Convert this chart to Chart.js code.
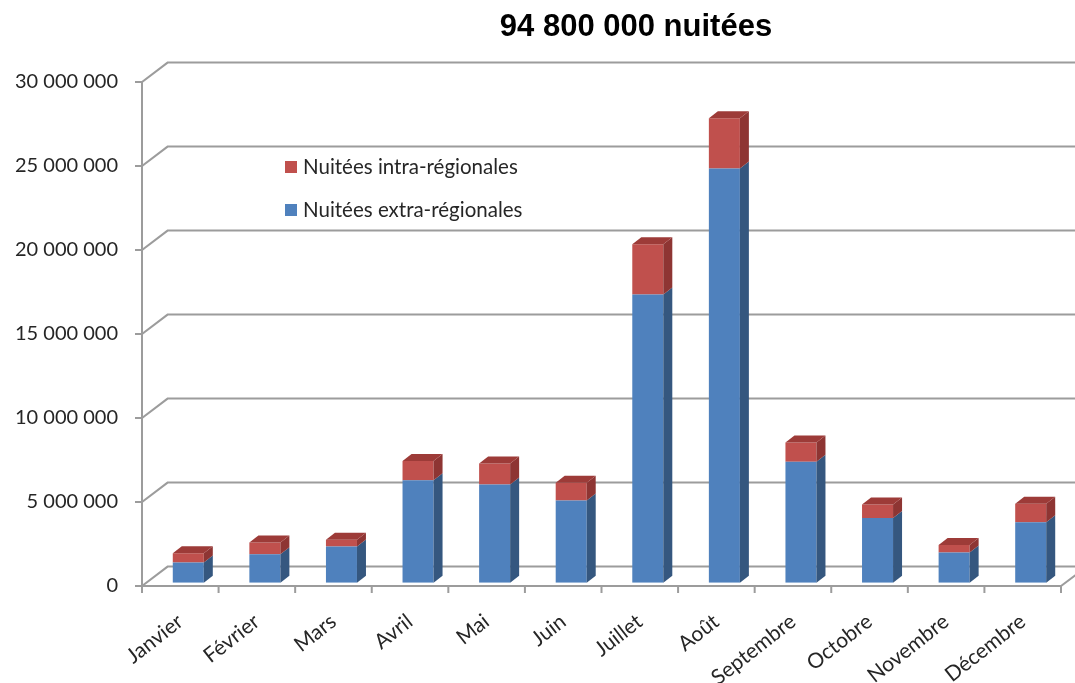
<!DOCTYPE html>
<html>
<head>
<meta charset="utf-8">
<script src="https://cdn.jsdelivr.net/npm/chart.js@4"></script>
<style>
  body { margin: 0; background: #fff; }
  #wrap { width: 1075px; height: 683px; }
</style>
</head>
<body>
<div id="wrap"><canvas id="nuitees" width="1075" height="683"></canvas></div>
<script>
const months = ['Janvier', 'Février', 'Mars', 'Avril', 'Mai', 'Juin', 'Juillet', 'Août', 'Septembre', 'Octobre', 'Novembre', 'Décembre'];
const extraRegionales = [1200000, 1700000, 2150000, 6100000, 5850000, 4900000, 17150000, 24650000, 7200000, 3850000, 1800000, 3600000];
const intraRegionales = [560000, 690000, 400000, 1150000, 1250000, 1050000, 3000000, 3000000, 1150000, 800000, 450000, 1100000];
const yTicks = [0, 5000000, 10000000, 15000000, 20000000, 25000000, 30000000];
const titleText = '94 800 000 nuitées';

// depth of the back wall and of the columns
const WALL = { dx: 25.6, dy: -19.4 };
const COL = { dx: 9, dy: -7 };
const SHIFT = { dx: 8, dy: -3.3 };
const GRID = '#9c9c9c';

function spaced(v) {
    return String(v).replace(/\B(?=(\d{3})+(?!\d))/g, ' ');
}

function poly(ctx, pts, color) {
    ctx.beginPath();
    ctx.moveTo(pts[0][0], pts[0][1]);
    for (let i = 1; i < pts.length; i++) ctx.lineTo(pts[i][0], pts[i][1]);
    ctx.closePath();
    ctx.fillStyle = color;
    ctx.fill();
}

const box3d = {
    id: 'box3d',
    beforeDatasetsDraw(chart) {
        const { ctx, chartArea: a, scales: { x, y } } = chart;
        ctx.save();
        ctx.strokeStyle = GRID;
        ctx.lineWidth = 2;
        ctx.beginPath();
        yTicks.forEach(v => {
            const py = y.getPixelForValue(v);
            ctx.moveTo(a.left - 7, py);
            ctx.lineTo(a.left, py);
            ctx.lineTo(a.left + WALL.dx, py + WALL.dy);
            ctx.lineTo(a.right + WALL.dx + 20, py + WALL.dy);
        });
        // axis and floor edges
        ctx.moveTo(a.left, y.getPixelForValue(yTicks[yTicks.length - 1]));
        ctx.lineTo(a.left, a.bottom);
        ctx.lineTo(a.right, a.bottom);
        ctx.lineTo(a.right + WALL.dx, a.bottom + WALL.dy);
        const half = (x.getPixelForValue(1) - x.getPixelForValue(0)) / 2;
        for (let i = 0; i <= months.length; i++) {
            const px = x.getPixelForValue(0) - half + i * half * 2;
            ctx.moveTo(px, a.bottom);
            ctx.lineTo(px, a.bottom + 7);
        }
        ctx.stroke();
        ctx.restore();

        ctx.save();
        ctx.translate(SHIFT.dx, SHIFT.dy);
    },
    afterDatasetsDraw(chart) {
        const { ctx } = chart;
        const last = chart.data.datasets.length - 1;
        chart.data.datasets.forEach((ds, di) => {
            chart.getDatasetMeta(di).data.forEach(bar => {
                const p = bar.getProps(['x', 'y', 'base', 'width'], true);
                const l = p.x - p.width / 2, r = p.x + p.width / 2;
                const top = Math.min(p.y, p.base), bot = Math.max(p.y, p.base);
                poly(ctx, [[r, top], [r + COL.dx, top + COL.dy], [r + COL.dx, bot + COL.dy], [r, bot]], ds.sideColor);
                if (di === last) {
                    poly(ctx, [[l, top], [l + COL.dx, top + COL.dy], [r + COL.dx, top + COL.dy], [r, top]], ds.topColor);
                }
            });
        });
        ctx.restore();
    },
    afterDraw(chart) {
        const { ctx } = chart;
        ctx.save();
        ctx.fillStyle = '#000';
        ctx.font = 'bold 31px "Liberation Sans", Arial, sans-serif';
        ctx.textAlign = 'center';
        ctx.textBaseline = 'middle';
        ctx.fillText(titleText, 636, 27);

        // legend, top series first
        ctx.font = '20.5px Lato, sans-serif';
        ctx.textAlign = 'left';
        const sets = chart.data.datasets.slice().reverse();
        sets.forEach((ds, i) => {
            const cy = 167 + i * 43;
            ctx.fillStyle = ds.backgroundColor;
            ctx.fillRect(285, cy - 6, 12, 12);
            ctx.fillStyle = '#262626';
            ctx.fillText(ds.label, 303, cy);
        });
        ctx.restore();
    }
};

new Chart(document.getElementById('nuitees'), {
    type: 'bar',
    data: {
        labels: months,
        datasets: [
            {
                label: 'Nuitées extra-régionales',
                data: extraRegionales,
                backgroundColor: '#4f81bd',
                sideColor: '#35577f',
                topColor: '#6f97c9'
            },
            {
                label: 'Nuitées intra-régionales',
                data: intraRegionales,
                backgroundColor: '#c0504d',
                sideColor: '#8e3533',
                topColor: '#9d3b38'
            }
        ]
    },
    options: {
        responsive: false,
        animation: false,
        layout: { padding: { top: 82, right: 14, left: 0, bottom: 0 } },
        datasets: { bar: { categoryPercentage: 1, barPercentage: 0.405 } },
        plugins: {
            legend: { display: false },
            title: { display: false },
            tooltip: { enabled: false }
        },
        scales: {
            x: {
                stacked: true,
                grid: { display: false },
                border: { display: false },
                afterFit(s) { s.height = 97; },
                ticks: {
                    autoSkip: false,
                    minRotation: 38,
                    maxRotation: 38,
                    padding: 15,
                    color: '#262626',
                    font: { family: 'Lato', size: 21 }
                }
            },
            y: {
                stacked: true,
                min: 0,
                max: 30000000,
                grid: { display: false },
                border: { display: false },
                afterFit(s) { s.width = 142; },
                ticks: {
                    stepSize: 5000000,
                    padding: 16,
                    color: '#262626',
                    font: { family: 'Lato', size: 20 },
                    callback: v => spaced(v)
                }
            }
        }
    },
    plugins: [box3d]
});
</script>
</body>
</html>
